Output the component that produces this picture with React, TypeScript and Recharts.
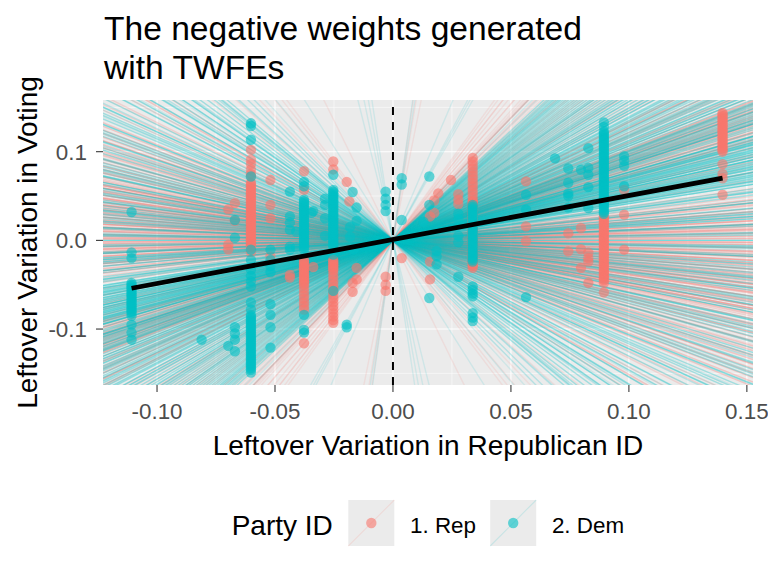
import React from 'react';
import { ComposedChart, XAxis, YAxis, CartesianGrid, Scatter, Line, ReferenceLine } from 'recharts';

type Column = { x: number; ys: number[]; n: number };

// Observations grouped by x (leftover Republican ID); ys = leftover voting; n = stacked observations per point
const repColumns: Column[] = [
  { x: -0.067, ys: [0.042, 0.022], n: 2 },
  { x: -0.0698, ys: [0.035, -0.005, -0.010], n: 2 },
  { x: -0.0602, ys: [0.102, 0.091, 0.086, 0.080, 0.075, 0.072, -0.013], n: 2 },
  { x: -0.0602, ys: [0.065, 0.063, 0.061, 0.059, 0.057, 0.055, 0.053, 0.051, 0.049, 0.047, 0.045, 0.043, 0.041, 0.039, 0.037, 0.035, 0.033, 0.031, 0.029, 0.027, 0.025, 0.023, 0.021, 0.019, 0.017, 0.015, 0.013, 0.011, 0.009, 0.007, 0.005, 0.003, 0.001, -0.001, -0.003, -0.005, -0.007], n: 3 },
  { x: -0.0519, ys: [0.068, 0.040, 0.025, -0.018], n: 1 },
  { x: -0.0437, ys: [-0.039, -0.042], n: 1 },
  { x: -0.0377, ys: [0.078, 0.057, -0.116], n: 1 },
  { x: -0.0377, ys: [-0.022, -0.024, -0.026, -0.028, -0.030, -0.032, -0.034, -0.036, -0.038, -0.040, -0.042, -0.044, -0.046, -0.048, -0.050], n: 2 },
  { x: -0.0377, ys: [-0.054, -0.058, -0.062, -0.066, -0.070, -0.074, -0.078], n: 1 },
  { x: -0.0338, ys: [-0.030], n: 1 },
  { x: -0.0253, ys: [0.089, 0.080], n: 1 },
  { x: -0.0253, ys: [-0.022, -0.024, -0.026, -0.028, -0.030, -0.032, -0.034], n: 2 },
  { x: -0.0253, ys: [-0.038, -0.042, -0.046, -0.050, -0.054, -0.058, -0.062, -0.066, -0.070, -0.074, -0.078, -0.082, -0.086, -0.090, -0.093], n: 1 },
  { x: -0.0196, ys: [0.066], n: 1 },
  { x: -0.0185, ys: [0.044], n: 1 },
  { x: -0.0154, ys: [-0.031, -0.044], n: 1 },
  { x: -0.0171, ys: [-0.048, -0.058], n: 1 },
  { x: -0.0031, ys: [-0.041, -0.050, -0.057], n: 1 },
  { x: 0.0037, ys: [-0.020], n: 1 },
  { x: 0.0192, ys: [0.053], n: 1 },
  { x: 0.0175, ys: [0.045, 0.031], n: 1 },
  { x: 0.0157, ys: [0.027, -0.024, -0.044], n: 1 },
  { x: 0.0246, ys: [0.068], n: 1 },
  { x: 0.0277, ys: [0.052, 0.046, 0.041], n: 1 },
  { x: 0.0338, ys: [0.093, 0.089, 0.085, 0.081, 0.077, 0.073, 0.069, 0.065, 0.061, 0.057, 0.053, 0.049], n: 1 },
  { x: 0.0338, ys: [0.045, 0.043, 0.041, 0.039, 0.037, 0.035, 0.033, 0.031, 0.029, 0.027, 0.025, 0.023, 0.021, 0.019, 0.017, 0.015, 0.013, 0.011, 0.009, 0.007, 0.005, 0.003, 0.001, -0.001, -0.003, -0.005, -0.007, -0.009, -0.011, -0.013, -0.015, -0.017, -0.019, -0.021, -0.023, -0.025, -0.027, -0.029, -0.031], n: 2 },
  { x: 0.0564, ys: [0.0665, 0.0158, -0.001], n: 1 },
  { x: 0.0743, ys: [0.008, -0.0124], n: 1 },
  { x: 0.0797, ys: [0.014, -0.010, -0.031], n: 1 },
  { x: 0.0828, ys: [-0.014, -0.020, -0.024, -0.048], n: 1 },
  { x: 0.0894, ys: [0.027, 0.025, 0.023, 0.021, 0.019, 0.017, 0.015, 0.013, 0.011, 0.009, 0.007, 0.005, 0.003, 0.001, -0.001, -0.003, -0.005, -0.007, -0.009, -0.011, -0.013, -0.015, -0.017, -0.019, -0.021, -0.023, -0.025, -0.027, -0.029, -0.031, -0.033, -0.035, -0.037, -0.039, -0.041, -0.043, -0.045, -0.048], n: 3 },
  { x: 0.0894, ys: [-0.0586], n: 1 },
  { x: 0.098, ys: [0.057, 0.029, -0.0105], n: 1 },
  { x: 0.1397, ys: [0.1436, 0.142, 0.140, 0.138, 0.136, 0.134, 0.132, 0.130, 0.128, 0.126, 0.124, 0.122, 0.120, 0.118, 0.116, 0.114, 0.112, 0.110, 0.108, 0.106, 0.104, 0.102, 0.100], n: 2 },
  { x: 0.1397, ys: [0.086, 0.075, 0.070, 0.0515], n: 1 },
];

const demColumns: Column[] = [
  { x: -0.1108, ys: [0.032, -0.0135, -0.020], n: 1 },
  { x: -0.1108, ys: [-0.048, -0.050, -0.052, -0.054, -0.056, -0.058, -0.060, -0.062, -0.064, -0.066, -0.068, -0.070, -0.072, -0.074, -0.076, -0.078, -0.080, -0.082, -0.085], n: 3 },
  { x: -0.1108, ys: [-0.095, -0.104, -0.112], n: 2 },
  { x: -0.0811, ys: [-0.112], n: 1 },
  { x: -0.067, ys: [0.023, 0.003, -0.098, -0.105, -0.112, -0.125], n: 2 },
  { x: -0.0698, ys: [-0.119], n: 2 },
  { x: -0.0602, ys: [0.132, 0.129, 0.1135, -0.0105, -0.022, -0.033, -0.040, -0.046, -0.052, -0.070, -0.078], n: 2 },
  { x: -0.0602, ys: [0.072], n: 1 },
  { x: -0.0602, ys: [-0.084, -0.086, -0.088, -0.090, -0.092, -0.094, -0.096, -0.098, -0.100, -0.102, -0.104, -0.106, -0.108, -0.110, -0.112, -0.114, -0.116, -0.118, -0.120, -0.122, -0.124, -0.126, -0.128, -0.130, -0.132, -0.134, -0.136, -0.138, -0.140, -0.142, -0.144, -0.146, -0.149], n: 3 },
  { x: -0.0519, ys: [-0.0105, -0.022, -0.029, -0.036, -0.072, -0.084, -0.098, -0.121], n: 1 },
  { x: -0.0437, ys: [0.055, 0.027, 0.020, 0.012, -0.007, -0.0105], n: 2 },
  { x: -0.041, ys: [0.010, -0.008], n: 2 },
  { x: -0.0377, ys: [0.066, 0.061, -0.084, -0.101, -0.104], n: 1 },
  { x: -0.0377, ys: [0.046, 0.044, 0.042, 0.040, 0.038, 0.036, 0.034, 0.032, 0.030, 0.028, 0.026, 0.024, 0.022, 0.020, 0.018, 0.016, 0.014, 0.012, 0.010, 0.008, 0.006, 0.004, 0.002, 0.000, -0.002, -0.004, -0.006, -0.008, -0.0105], n: 3 },
  { x: -0.0345, ys: [0.031], n: 1 },
  { x: -0.0338, ys: [0.033], n: 1 },
  { x: -0.0288, ys: [0.047, 0.040, 0.025, 0.005], n: 2 },
  { x: -0.0253, ys: [0.074, -0.016, -0.057], n: 1 },
  { x: -0.0253, ys: [0.057, 0.055, 0.053, 0.051, 0.049, 0.047, 0.045, 0.043, 0.041, 0.039, 0.037, 0.035, 0.033, 0.031, 0.029, 0.027, 0.025, 0.023, 0.021, 0.019, 0.017, 0.015, 0.013, 0.011, 0.009, 0.007, 0.005, 0.003, 0.001, -0.001, -0.003, -0.005, -0.007], n: 3 },
  { x: -0.0171, ys: [0.0545], n: 1 },
  { x: -0.0154, ys: [0.037, 0.022], n: 1 },
  { x: -0.0182, ys: [0.015, 0.004], n: 1 },
  { x: -0.0167, ys: [-0.010], n: 1 },
  { x: -0.0196, ys: [-0.095, -0.098], n: 1 },
  { x: -0.0031, ys: [0.055, 0.047, 0.040, 0.033], n: 1 },
  { x: 0.0037, ys: [0.070, 0.063, 0.023], n: 1 },
  { x: 0.0154, ys: [0.072, 0.040, -0.065], n: 1 },
  { x: 0.0129, ys: [0.021], n: 1 },
  { x: 0.0185, ys: [-0.012, -0.018, -0.027], n: 1 },
  { x: 0.0277, ys: [0.030, 0.024, 0.005, -0.002, -0.041], n: 1 },
  { x: 0.0338, ys: [0.040, 0.038, 0.036, 0.034, 0.032, 0.030, 0.028, 0.026, 0.024, 0.022, 0.020, 0.018, 0.016, 0.014, 0.012, 0.010, 0.008, 0.006, 0.004, 0.002, 0.000, -0.002, -0.004, -0.006, -0.008, -0.010, -0.012, -0.014, -0.016, -0.018, -0.020, -0.022, -0.024], n: 3 },
  { x: 0.0338, ys: [-0.052, -0.056, -0.060, -0.063, -0.082, -0.087, -0.091], n: 2 },
  { x: 0.0564, ys: [0.0515, 0.0346, -0.064], n: 1 },
  { x: 0.0687, ys: [0.0925], n: 1 },
  { x: 0.0743, ys: [0.081, 0.065, 0.053, 0.050, 0.037], n: 2 },
  { x: 0.0797, ys: [0.0797], n: 1 },
  { x: 0.0828, ys: [0.104, 0.0816, 0.074, 0.060, 0.0365], n: 2 },
  { x: 0.0894, ys: [0.133, 0.128], n: 2 },
  { x: 0.0894, ys: [0.123, 0.121, 0.119, 0.117, 0.115, 0.113, 0.111, 0.109, 0.107, 0.105, 0.103, 0.101, 0.099, 0.097, 0.095, 0.093, 0.091, 0.089, 0.087, 0.085, 0.083, 0.081, 0.079, 0.077, 0.075, 0.073, 0.071, 0.069, 0.067, 0.065, 0.063, 0.061, 0.059, 0.057, 0.055, 0.053, 0.051, 0.049, 0.047, 0.045, 0.043, 0.041, 0.039, 0.037, 0.034, 0.032, 0.030], n: 3 },
  { x: 0.098, ys: [0.095, 0.090, 0.084, 0.061], n: 2 },
];

// Fitted (regression) line end points
const fitX = [-0.1108, 0.1397];
const fitY = [-0.054, 0.0703];

const xTicks = [-0.1, -0.05, 0, 0.05, 0.1, 0.15];
const yTicks = [-0.1, 0, 0.1];
const xMinor = [-0.075, -0.025, 0.025, 0.075, 0.125];
const yMinor = [-0.15, -0.05, 0.05, 0.15];
const xDomain: [number, number] = [-0.1229, 0.1526];
const yDomain: [number, number] = [-0.1631, 0.1583];

const partyLabels = ['1. Rep', '2. Dem'];
const partyColors = ['#F8766D', '#00BFC4'];

const FONT = '"Liberation Sans", Arial, sans-serif';
const LINE_ALPHA = 0.12;

const flatten = (cols: Column[]) => cols.flatMap((c) => c.ys.map((y) => ({ x: c.x, y, n: c.n })));
const repData = flatten(repColumns);
const demData = flatten(demColumns);
const fitData = fitX.map((x, i) => ({ x, y: fitY[i] }));

// One abline through the origin per observation (Rep drawn first, then Dem)
const ablines = [
  ...repData.map((d) => ({ slope: d.y / d.x, color: partyColors[0], n: d.n })),
  ...demData.map((d) => ({ slope: d.y / d.x, color: partyColors[1], n: d.n })),
];

const makeDot = (color: string) => (props: any) => {
  const { cx, cy } = props;
  if (cx == null || cy == null) return <g />;
  return <circle cx={cx} cy={cy} r={5.2} fill={color} fillOpacity={0.6} />;
};

export default function App() {
  return (
    <div style={{ position: 'absolute', left: 0, top: 0, width: 768, height: 576, background: '#fff' }}>
      <ComposedChart width={768} height={576} margin={{ top: 100, right: 15, bottom: 161, left: 0 }}>
        <CartesianGrid fill="#EBEBEB" stroke="#FFFFFF" strokeWidth={1.07} verticalValues={xTicks} horizontalValues={yTicks} />
        <CartesianGrid stroke="#FFFFFF" strokeWidth={0.53} verticalValues={xMinor} horizontalValues={yMinor} />
        <XAxis
          type="number"
          dataKey="x"
          domain={xDomain}
          allowDataOverflow
          ticks={xTicks}
          tickFormatter={(v: number) => v.toFixed(2)}
          height={30}
          axisLine={false}
          tickSize={7}
          tickMargin={11}
          tickLine={{ stroke: '#333333', strokeWidth: 1.07 }}
          tick={{ fill: '#4D4D4D', fontSize: 22.4, fontFamily: FONT }}
          interval={0}
        />
        <YAxis
          type="number"
          dataKey="y"
          domain={yDomain}
          allowDataOverflow
          ticks={yTicks}
          tickFormatter={(v: number) => v.toFixed(1)}
          width={103}
          axisLine={false}
          tickSize={7}
          tickMargin={9}
          tickLine={{ stroke: '#333333', strokeWidth: 1.07 }}
          tick={{ fill: '#4D4D4D', fontSize: 22.4, fontFamily: FONT }}
          interval={0}
        />
        {ablines.map((a, i) => (
          <ReferenceLine
            key={'ab' + i}
            segment={[
              { x: xDomain[0], y: a.slope * xDomain[0] },
              { x: xDomain[1], y: a.slope * xDomain[1] },
            ]}
            ifOverflow="hidden"
            stroke={a.color}
            strokeOpacity={1 - Math.pow(1 - LINE_ALPHA, a.n)}
            strokeWidth={1.4}
            zIndex={50}
          />
        ))}
        <Scatter data={repData} isAnimationActive={false} shape={makeDot(partyColors[0])} zIndex={600} />
        <Scatter data={demData} isAnimationActive={false} shape={makeDot(partyColors[1])} zIndex={600} />
        <ReferenceLine x={0} stroke="#000000" strokeWidth={2} strokeDasharray="8 7" zIndex={650} />
        <Line
          data={fitData}
          dataKey="y"
          stroke="#000000"
          strokeWidth={4.8}
          dot={false}
          activeDot={false}
          isAnimationActive={false}
          zIndex={700}
        />
      </ComposedChart>
      <svg
        width={768}
        height={576}
        style={{ position: 'absolute', left: 0, top: 0, pointerEvents: 'none' }}
        fontFamily={FONT}
      >
        <text x={104} y={40} fontSize={33.6} fill="#000">The negative weights generated</text>
        <text x={104} y={79} fontSize={33.6} fill="#000">with TWFEs</text>
        <text x={428} y={454.6} fontSize={28} fill="#000" textAnchor="middle">Leftover Variation in Republican ID</text>
        <text transform="translate(36.5,242.5) rotate(-90)" fontSize={28} fill="#000" textAnchor="middle">
          Leftover Variation in Voting
        </text>
        <text x={231.7} y={535} fontSize={28} fill="#000">Party ID</text>
        {partyLabels.map((lab, i) => {
          const kx = 348.3 + i * 141.9;
          return (
            <g key={lab}>
              <rect x={kx} y={500} width={46} height={46} fill="#EBEBEB" />
              <line x1={kx} y1={546} x2={kx + 46} y2={500} stroke={partyColors[i]} strokeOpacity={0.15} strokeWidth={1.07} />
              <circle cx={kx + 23} cy={523} r={5.2} fill={partyColors[i]} fillOpacity={0.6} />
              <text x={kx + 61.7} y={533} fontSize={22.4} fill="#000">{lab}</text>
            </g>
          );
        })}
      </svg>
    </div>
  );
}
